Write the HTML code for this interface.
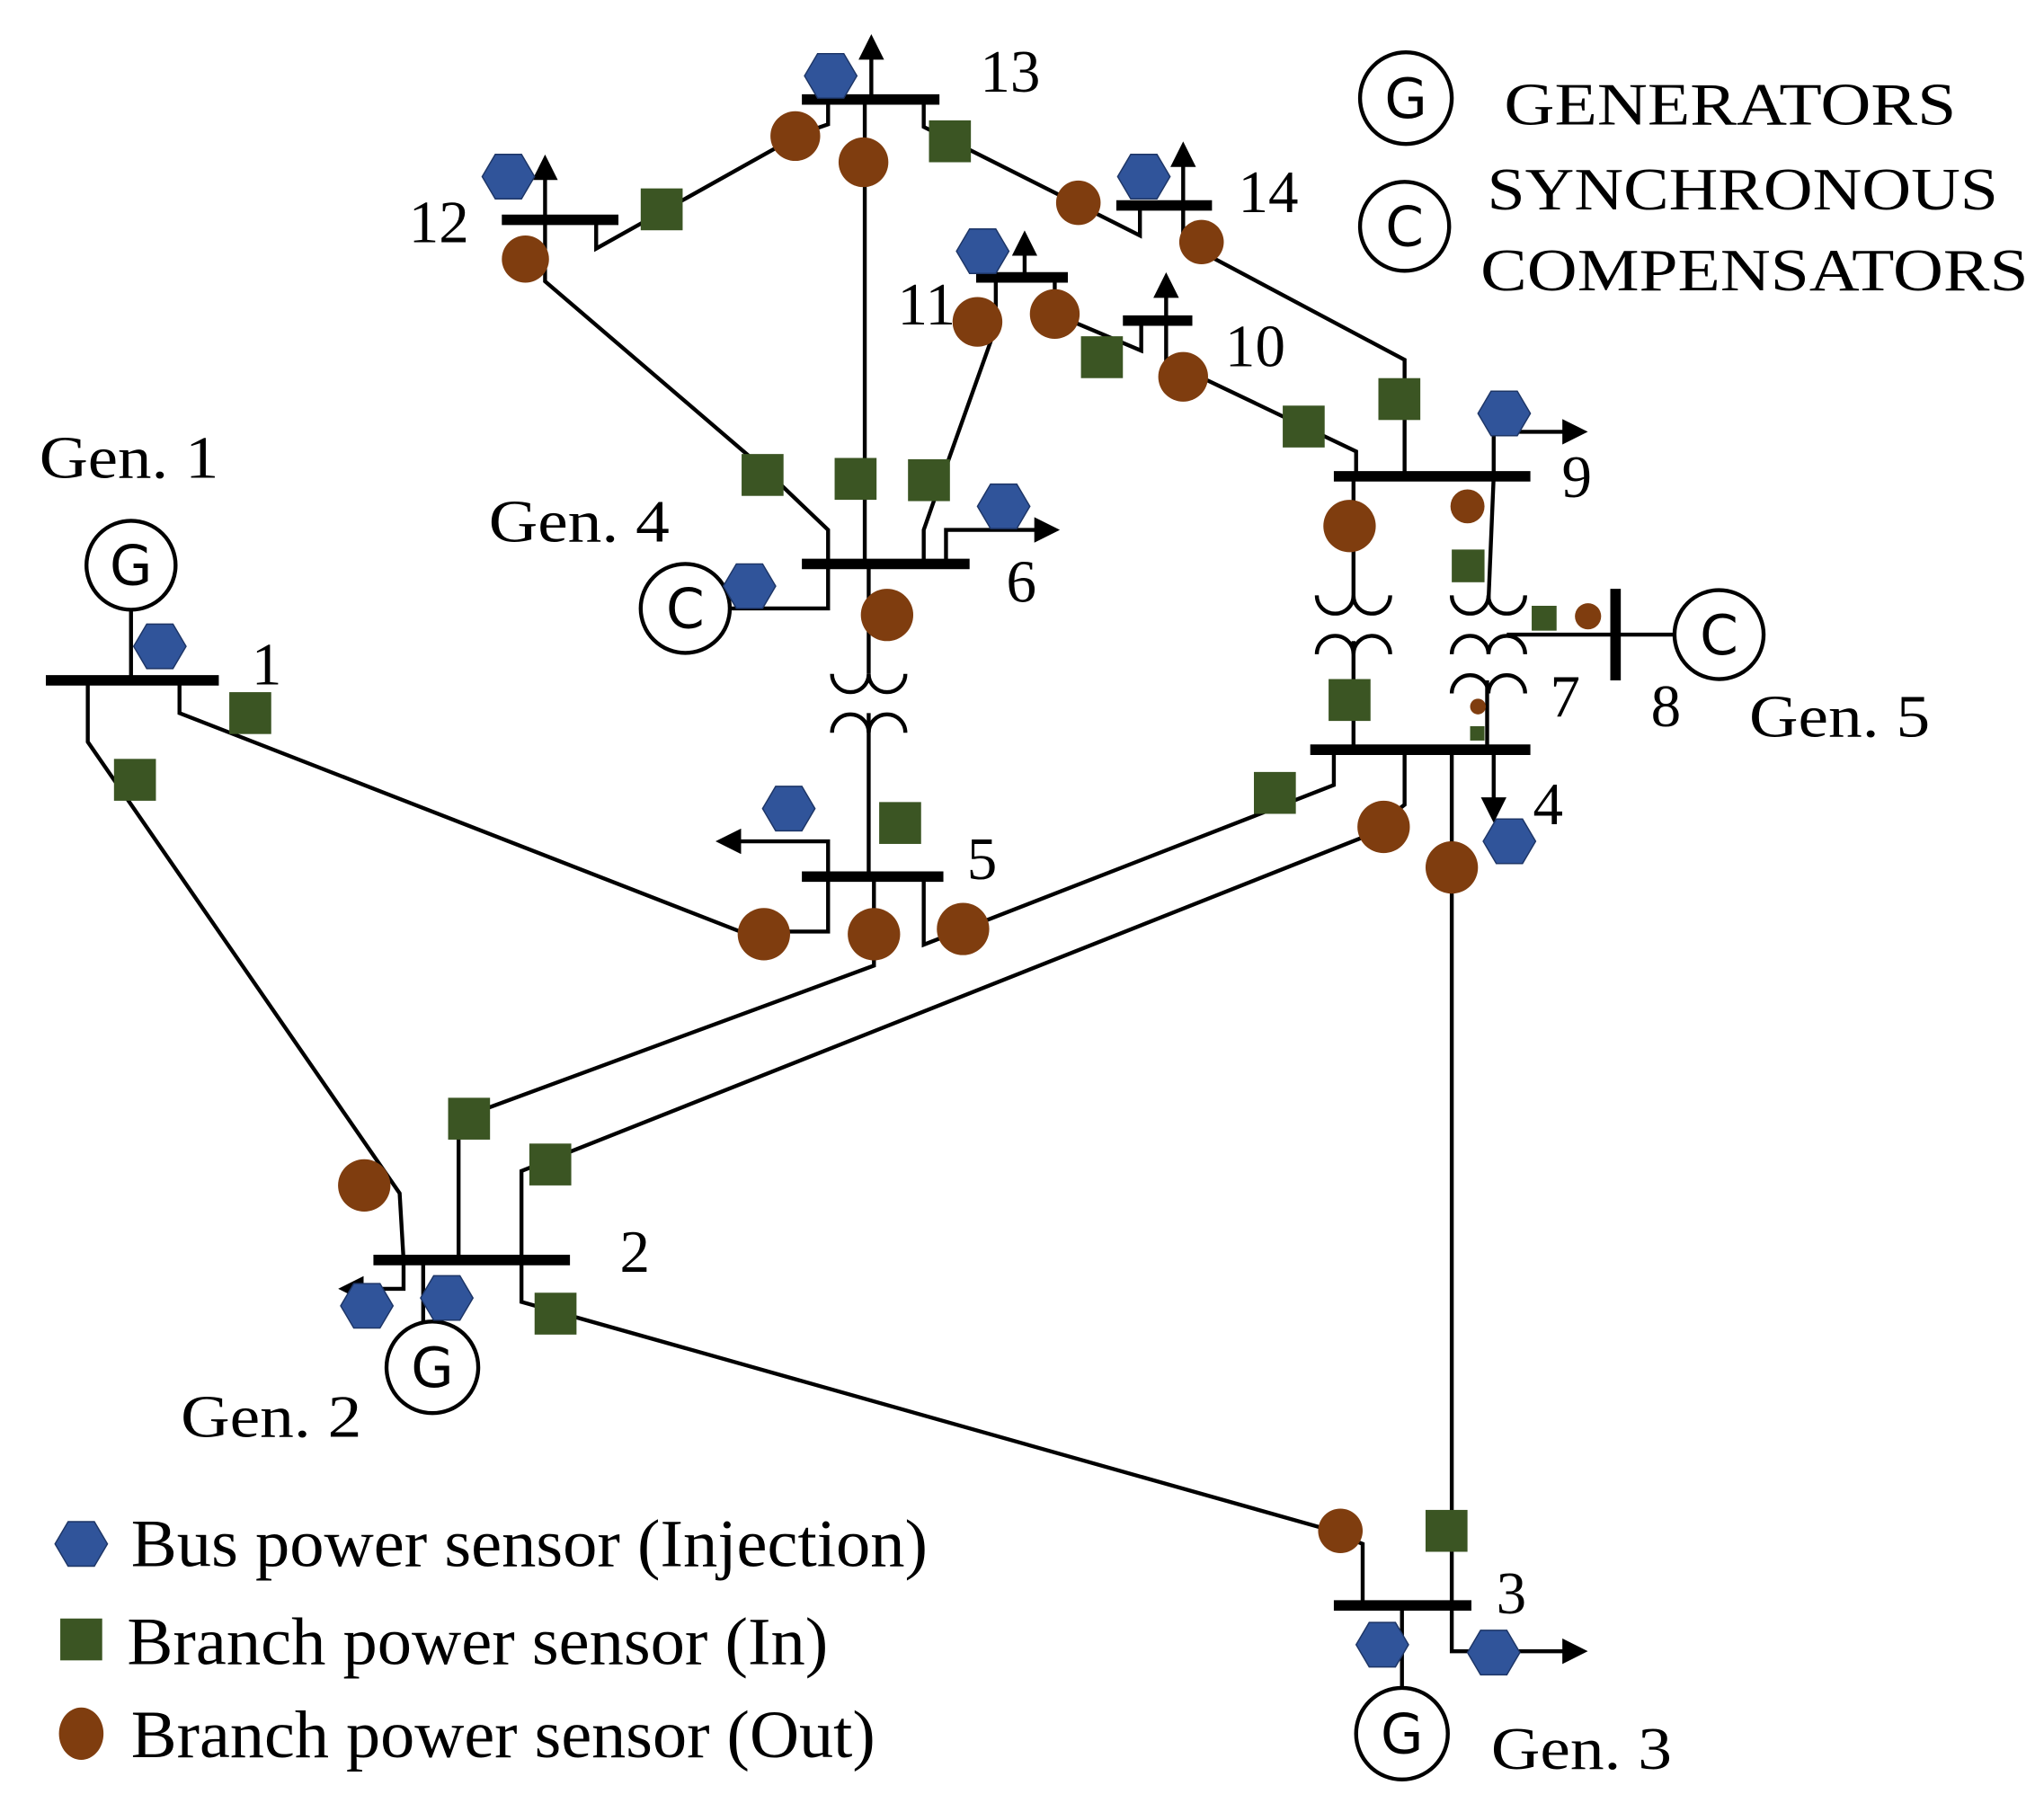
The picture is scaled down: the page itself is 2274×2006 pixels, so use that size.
<!DOCTYPE html>
<html><head><meta charset="utf-8"><style>html,body{margin:0;padding:0;background:#fff}svg{display:block}</style></head>
<body>
<svg width="2274" height="2006" viewBox="0 0 1560 1378" preserveAspectRatio="none" xmlns="http://www.w3.org/2000/svg">
<defs>
<polygon id="hx" points="-20,0 -10,-17 10,-17 20,0 10,17 -10,17" fill="#30549a" stroke="#1d3566" stroke-width="1"/>
<rect id="sq" x="-16" y="-16" width="32" height="32" fill="#3b5523"/>
<marker id="ah" viewBox="0 0 10 10" refX="8" refY="5" markerWidth="6.5" markerHeight="6.5" orient="auto"><path d="M0,0 L10,5 L0,10 z" fill="#000"/></marker>
</defs>
<g fill="none" stroke="#000" stroke-width="3">
<polyline points="67,520 67,567 305,912 308,963"/>
<polyline points="137,520 137,545 565,712 632,712 632,670"/>
<polyline points="350,963 350,855 667,738 667,670"/>
<polyline points="398,963 398,895 1040,640 1072,615 1072,573"/>
<polyline points="398,963 398,995 1010,1168 1040,1180 1040,1227"/>
<polyline points="1108,1227 1108,573"/>
<polyline points="1018,573 1018,600 705,722 705,670"/>
<polyline points="663,670 663,545"/>
<polyline points="663,515 663,431"/>
<polyline points="557,465 632,465 632,431"/>
<polyline points="416,168 416,215 585,360 632,405 632,431"/>
<polyline points="660,431 660,76"/>
<polyline points="705,431 705,405 712,385 760,250 760,212"/>
<polyline points="455,168 455,190 612,102 632,95 632,76"/>
<polyline points="705,76 705,97 725,107 870,180 870,157"/>
<polyline points="903,157 903,185 1072,275 1072,364"/>
<polyline points="805,212 805,240 871,268 871,245"/>
<polyline points="890,245 890,288 920,290 1035,345 1035,364"/>
<polyline points="1033,364 1033,460"/>
<polyline points="1033,490 1033,573"/>
<polyline points="1140,364 1136,460"/>
<polyline points="1135,520 1135,573"/>
<polyline points="1150,485 1278,485"/>
<line x1="100" y1="466" x2="100" y2="520"/>
<line x1="323" y1="963" x2="323" y2="1010"/>
<line x1="1070" y1="1227" x2="1070" y2="1290"/>
<path d="M635,515 a14,14 0 0 0 28,0 a14,14 0 0 0 28,0"/>
<path d="M635,560 a14,14 0 0 1 28,0 a14,14 0 0 1 28,0"/>
<path d="M1005,455 a14,14 0 0 0 28,0 a14,14 0 0 0 28,0"/>
<path d="M1005,500 a14,14 0 0 1 28,0 a14,14 0 0 1 28,0"/>
<path d="M1108,455 a14,14 0 0 0 28,0 a14,14 0 0 0 28,0"/>
<path d="M1108,500 a14,14 0 0 1 28,0 a14,14 0 0 1 28,0"/>
<path d="M1108,530 a14,14 0 0 1 28,0 a14,14 0 0 1 28,0"/>
<polyline points="308,963 308,985 262,985" marker-end="url(#ah)"/>
<polyline points="1108,1227 1108,1262 1208,1262" marker-end="url(#ah)"/>
<polyline points="1140,573 1140,625" marker-end="url(#ah)"/>
<polyline points="632,670 632,643 550,643" marker-end="url(#ah)"/>
<polyline points="722,431 722,405 805,405" marker-end="url(#ah)"/>
<polyline points="416,168 416,122" marker-end="url(#ah)"/>
<polyline points="665,76 665,30" marker-end="url(#ah)"/>
<polyline points="903,157 903,112" marker-end="url(#ah)"/>
<polyline points="782,212 782,180" marker-end="url(#ah)"/>
<polyline points="890,245 890,212" marker-end="url(#ah)"/>
<polyline points="1140,364 1140,330 1208,330" marker-end="url(#ah)"/>
</g>
<g stroke="#000" stroke-width="8">
<line x1="35" y1="520" x2="167" y2="520"/>
<line x1="285" y1="963" x2="435" y2="963"/>
<line x1="1018" y1="1227" x2="1123" y2="1227"/>
<line x1="1000" y1="573" x2="1168" y2="573"/>
<line x1="612" y1="670" x2="720" y2="670"/>
<line x1="612" y1="431" x2="740" y2="431"/>
<line x1="383" y1="168" x2="472" y2="168"/>
<line x1="612" y1="76" x2="717" y2="76"/>
<line x1="852" y1="157" x2="925" y2="157"/>
<line x1="745" y1="212" x2="815" y2="212"/>
<line x1="857" y1="245" x2="910" y2="245"/>
<line x1="1018" y1="364" x2="1168" y2="364"/>
<line x1="1233" y1="450" x2="1233" y2="520"/>
</g>
<g fill="#fff" stroke="#000" stroke-width="3">
<circle cx="100" cy="432" r="34"/><circle cx="330" cy="1045" r="35"/><circle cx="1070" cy="1325" r="35"/>
<circle cx="523" cy="465" r="34"/><circle cx="1312" cy="485" r="34"/>
<circle cx="1073" cy="75" r="35"/><circle cx="1072" cy="173" r="34"/>
</g>
<g font-family="'DejaVu Sans', sans-serif" font-size="42" text-anchor="middle">
<text x="100" y="447">G</text><text x="330" y="1060">G</text><text x="1070" y="1340">G</text>
<text x="523" y="480">C</text><text x="1312" y="500">C</text><text x="1073" y="90">G</text><text x="1072" y="188">C</text>
</g>
<g>
<use href="#hx" x="122" y="494"/><use href="#hx" x="280" y="998"/><use href="#hx" x="341" y="992"/>
<use href="#hx" x="1055" y="1257"/><use href="#hx" x="1140" y="1263"/><use href="#hx" x="1152" y="643"/>
<use href="#hx" x="602" y="618"/><use href="#hx" x="572" y="448"/><use href="#hx" x="766" y="387"/>
<use href="#hx" x="388" y="135"/><use href="#hx" x="634" y="58"/><use href="#hx" x="873" y="135"/>
<use href="#hx" x="750" y="192"/><use href="#hx" x="1148" y="316"/><use href="#hx" x="62" y="1180"/>
<use href="#sq" x="191" y="545"/><use href="#sq" x="103" y="596"/><use href="#sq" x="358" y="855"/>
<use href="#sq" x="420" y="890"/><use href="#sq" x="424" y="1004"/><use href="#sq" x="1104" y="1170"/>
<use href="#sq" x="973" y="606"/><use href="#sq" x="1030" y="535"/><use href="#sq" x="687" y="629"/>
<use href="#sq" x="582" y="363"/><use href="#sq" x="653" y="366"/><use href="#sq" x="709" y="367"/>
<use href="#sq" x="505" y="160"/><use href="#sq" x="725" y="108"/><use href="#sq" x="841" y="273"/>
<use href="#sq" x="995" y="326"/><use href="#sq" x="1068" y="305"/><use href="#sq" x="62" y="1253"/>
<rect x="1108" y="420" width="25" height="25" fill="#3b5523"/>
<rect x="1169" y="463" width="19" height="19" fill="#3b5523"/>
<rect x="1122" y="555" width="11" height="11" fill="#3b5523"/>
</g>
<g fill="#7f3d0f">
<circle cx="278" cy="906" r="20"/><circle cx="583" cy="714" r="20"/><circle cx="667" cy="714" r="20"/>
<circle cx="735" cy="710" r="20"/><circle cx="1056" cy="632" r="20"/><circle cx="1108" cy="663" r="20"/>
<circle cx="1023" cy="1170" r="17"/><circle cx="677" cy="470" r="20"/><circle cx="401" cy="198" r="18"/>
<circle cx="607" cy="104" r="19"/><circle cx="659" cy="124" r="19"/><circle cx="823" cy="155" r="17"/>
<circle cx="917" cy="185" r="17"/><circle cx="746" cy="246" r="19"/><circle cx="805" cy="240" r="19"/>
<circle cx="903" cy="288" r="19"/><circle cx="1030" cy="402" r="20"/><circle cx="1120" cy="387" r="13"/>
<circle cx="1212" cy="471" r="10"/><circle cx="1128" cy="540" r="6"/>
<ellipse cx="62" cy="1325" rx="17" ry="20"/>
</g>
<g font-family="'Liberation Serif', serif" font-size="46" fill="#000">
<text x="30" y="365" textLength="137" lengthAdjust="spacingAndGlyphs">Gen. 1</text>
<text x="192" y="523">1</text>
<text x="473" y="972">2</text>
<text x="138" y="1098" textLength="138" lengthAdjust="spacingAndGlyphs">Gen. 2</text>
<text x="1142" y="1233">3</text>
<text x="1138" y="1352" textLength="138" lengthAdjust="spacingAndGlyphs">Gen. 3</text>
<text x="1170" y="630">4</text>
<text x="738" y="672">5</text>
<text x="768" y="460">6</text>
<text x="373" y="414" textLength="138" lengthAdjust="spacingAndGlyphs">Gen. 4</text>
<text x="1183" y="548">7</text>
<text x="1260" y="555">8</text>
<text x="1335" y="563" textLength="138" lengthAdjust="spacingAndGlyphs">Gen. 5</text>
<text x="1192" y="380">9</text>
<text x="935" y="280">10</text>
<text x="685" y="248">11</text>
<text x="312" y="185">12</text>
<text x="748" y="70">13</text>
<text x="945" y="162">14</text>
<text x="1148" y="95" textLength="345" lengthAdjust="spacingAndGlyphs">GENERATORS</text>
<text x="1135" y="160" textLength="390" lengthAdjust="spacingAndGlyphs">SYNCHRONOUS</text>
<text x="1130" y="222" textLength="418" lengthAdjust="spacingAndGlyphs">COMPENSATORS</text>
</g>
<g font-family="'Liberation Serif', serif" font-size="52" fill="#000">
<text x="100" y="1197" textLength="608" lengthAdjust="spacingAndGlyphs">Bus power sensor (Injection)</text>
<text x="97" y="1272" textLength="535" lengthAdjust="spacingAndGlyphs">Branch power sensor (In)</text>
<text x="100" y="1343" textLength="568" lengthAdjust="spacingAndGlyphs">Branch power sensor (Out)</text>
</g>
</svg>
</body></html>
